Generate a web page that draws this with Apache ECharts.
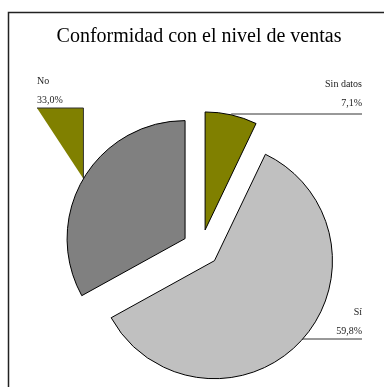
<!DOCTYPE html>
<html>
<head>
<meta charset="utf-8">
<script src="https://cdn.jsdelivr.net/npm/echarts@6/dist/echarts.min.js"></script>
<style>
  html, body { margin: 0; padding: 0; background: #fff; }
  #chart { width: 384px; height: 387px; }
</style>
</head>
<body>
<div id="chart"></div>
<script>
// Answers to "are you satisfied with the sales level?"
const categories = ['Sin datos', 'Sí', 'No'];
const shares = [7.1, 59.8, 33.0];
const shareLabels = ['7,1%', '59,8%', '33,0%'];
const sliceColors = ['#808000', '#C0C0C0', '#808080'];

const chartTitle = 'Conformidad con el nivel de ventas';
const serifFont = '"Liberation Serif", "DejaVu Serif", serif';

// Pie geometry (pixels): centre of the un-exploded pie, radius, explode distance
const pieCenter = [201, 248];
const pieRadius = 118;
const explode = 18.5;

// Label anchors: horizontal edge, text side, leader baseline, bottom of the text block
const labelAnchors = [
  { x: 362, align: 'right', lineY: 114, textBottom: 112 },
  { x: 362, align: 'right', lineY: 339, textBottom: 339.5 },
  { x: 37, align: 'left', lineY: 108, textBottom: 108.5 }
];

const total = shares.reduce((a, b) => a + b, 0);

// mid angle of each slice, measured clockwise from 12 o'clock (radians)
const midAngles = [];
let acc = 0;
shares.forEach(v => {
  const a0 = acc / total * 2 * Math.PI;
  acc += v;
  const a1 = acc / total * 2 * Math.PI;
  midAngles.push((a0 + a1) / 2);
});

function sliceCenter(i) {
  const t = midAngles[i];
  return [pieCenter[0] + explode * Math.sin(t), pieCenter[1] - explode * Math.cos(t)];
}
function arcMid(i) {
  const c = sliceCenter(i);
  const t = midAngles[i];
  return [c[0] + pieRadius * Math.sin(t), c[1] - pieRadius * Math.cos(t)];
}

function leaderPoints(i) {
  const p = arcMid(i);
  const a = labelAnchors[i];
  if (a.align === 'left') {
    // leader rises from the arc, then runs under the label
    return [p, [p[0], a.lineY], [a.x, a.lineY]];
  }
  return [[p[0], a.lineY], [a.x, a.lineY]];
}

// One pie per slice so every slice can be pushed out along its own bisector
const series = categories.map((name, i) => ({
  type: 'pie',
  silent: true,
  animation: false,
  startAngle: 90,
  clockwise: true,
  radius: pieRadius,
  center: sliceCenter(i),
  avoidLabelOverlap: false,
  z: 3,
  data: categories.map((n, j) => ({
    name: n,
    value: shares[j],
    itemStyle: j === i
      ? { color: sliceColors[j], borderColor: '#000', borderWidth: 1 }
      : { color: 'rgba(0,0,0,0)', borderWidth: 0 },
    label: j === i
      ? {
          show: true,
          position: 'outside',
          formatter: '{n|' + n + '}\n{p|' + shareLabels[j] + '}',
          rich: {
            n: { fontFamily: serifFont, fontSize: 10, color: '#222', lineHeight: 21 },
            p: { fontFamily: serifFont, fontSize: 10, color: '#222', lineHeight: 17 }
          }
        }
      : { show: false },
    labelLine: j === i
      ? { show: true, lineStyle: { color: '#333', width: 1 } }
      : { show: false }
  })),
  labelLayout: function () {
    const a = labelAnchors[i];
    return {
      x: a.x,
      y: a.textBottom,
      align: a.align,
      verticalAlign: 'bottom',
      labelLinePoints: leaderPoints(i)
    };
  }
}));

const noIndex = categories.indexOf('No');

const chart = echarts.init(document.getElementById('chart'), null, { renderer: 'canvas' });
chart.setOption({
  backgroundColor: '#fff',
  animation: false,
  title: {
    text: chartTitle,
    left: 194,
    textAlign: 'center',
    top: 22,
    textStyle: { fontFamily: serifFont, fontSize: 20, fontWeight: 'normal', color: '#000' }
  },
  graphic: [
    {
      type: 'rect',
      z: 0,
      shape: { x: 8.5, y: 12.5, width: 400, height: 400 },
      style: { fill: 'none', stroke: '#222', lineWidth: 1.5 }
    },
    {
      // filled wedge under the "No" leader
      type: 'polygon',
      z: 1,
      shape: { points: leaderPoints(noIndex) },
      style: { fill: sliceColors[0], stroke: 'none' }
    }
  ],
  series: series
});
</script>
</body>
</html>
